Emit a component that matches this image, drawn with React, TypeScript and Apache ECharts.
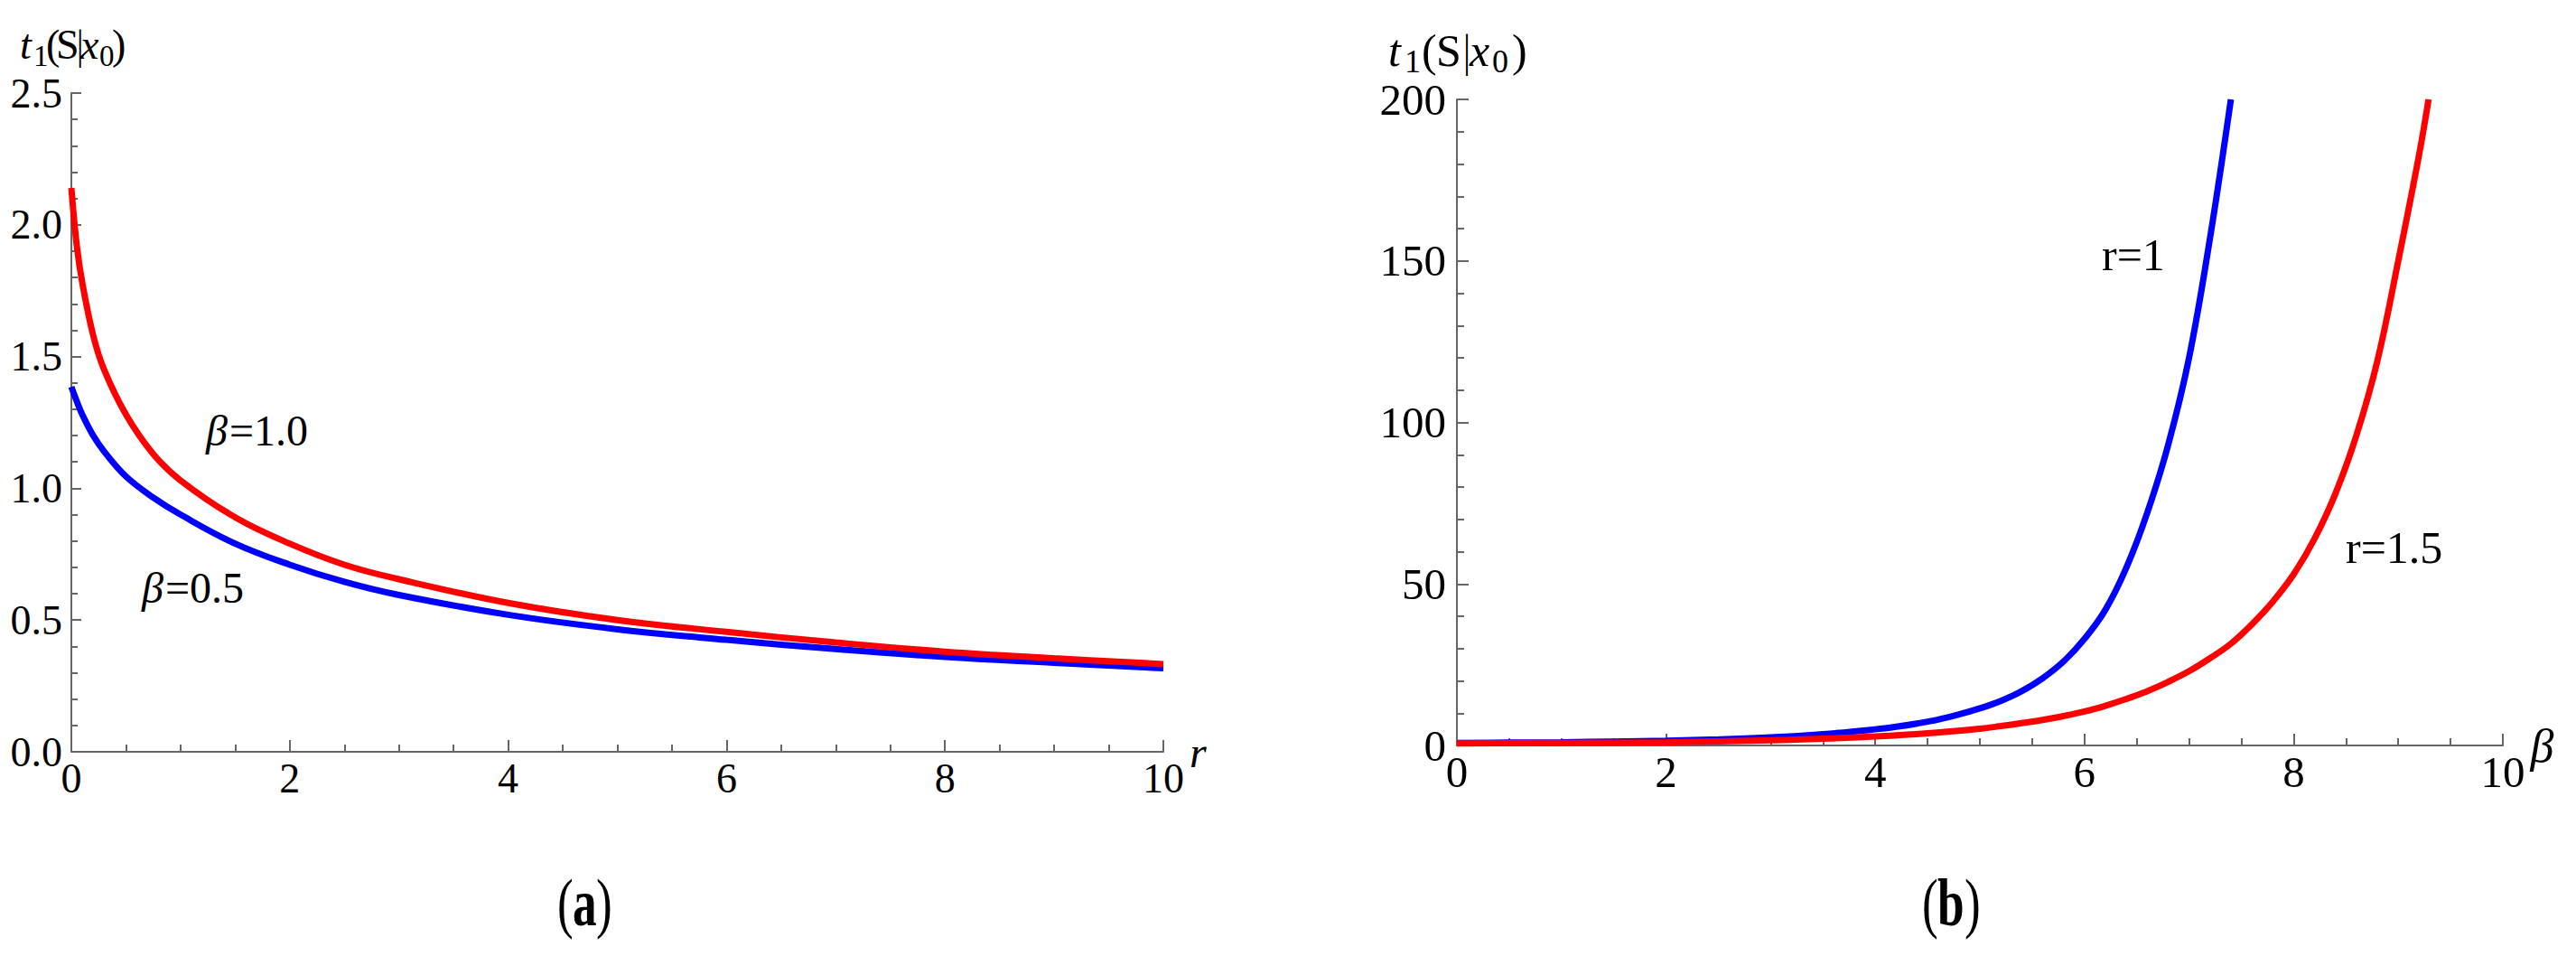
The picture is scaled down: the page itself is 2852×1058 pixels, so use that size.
import { useEffect, useRef } from "react";
import * as echarts from "echarts";

// ---- Panel (a): t1(S|x0) versus r ----
const rValues = [0, 0.05, 0.1, 0.2, 0.3, 0.5, 0.75, 1, 1.5, 2, 2.5, 3, 4, 5, 6, 7, 8, 9, 10];
const tBeta10 = [2.14, 1.92, 1.78, 1.58, 1.45, 1.28, 1.13, 1.03, 0.89, 0.79, 0.71, 0.655, 0.565, 0.5, 0.455, 0.415, 0.38, 0.355, 0.333];
const tBeta05 = [1.385, 1.33, 1.28, 1.2, 1.14, 1.045, 0.965, 0.9, 0.79, 0.71, 0.645, 0.595, 0.52, 0.465, 0.425, 0.39, 0.36, 0.338, 0.317];

// ---- Panel (b): t1(S|x0) versus beta ----
const betaR1 = [0, 0.5, 1, 1.5, 2, 2.5, 3, 3.5, 4, 4.2, 4.4, 4.6, 4.8, 5, 5.2, 5.4, 5.6, 5.8, 6, 6.2, 6.4, 6.6, 6.8, 7, 7.2, 7.4];
const tR1 = [0.8, 0.9, 1.0, 1.2, 1.5, 1.9, 2.5, 3.5, 5.0, 5.8, 6.8, 8.0, 9.6, 11.5, 13.8, 16.8, 20.8, 26, 33, 42, 55, 72, 93, 120, 157, 200];
const betaR15 = [0, 1, 2, 3, 3.5, 4, 4.5, 5, 5.2, 5.4, 5.6, 5.8, 6, 6.2, 6.4, 6.6, 6.8, 7, 7.2, 7.4, 7.6, 7.8, 8, 8.2, 8.4, 8.6, 8.8, 9, 9.2, 9.29];
const tR15 = [0.6, 0.8, 1.0, 1.6, 2.1, 2.8, 3.8, 5.2, 6.0, 6.9, 7.9, 9.1, 10.5, 12.3, 14.4, 16.8, 19.7, 23, 27, 31.5, 37.5, 44.5, 53, 64, 78, 96, 119, 150, 183, 200];

const curveLabelsA = ["=1.0", "=0.5"];
const curveLabelsB = ["r=1", "r=1.5"];
const panelTags = ["a", "b"];

const SERIF = "Liberation Serif";
const GRAY = "#666666";
const RED = "#ff0000";
const BLUE = "#0000ff";

const zip = (xs: number[], ys: number[]) => xs.map((x, i) => [x, ys[i]]);

function valueAxis(extra: any) {
  return {
    type: "value",
    splitLine: { show: false },
    axisLine: { show: true, onZero: false, lineStyle: { color: GRAY, width: 2 } },
    axisTick: { show: true, inside: true, length: 13, lineStyle: { color: GRAY, width: 2 } },
    minorTick: { show: true, length: 8, lineStyle: { color: GRAY, width: 2 } },
    ...extra,
  };
}

function txt(text: string, x: number, baseline: number, size: number, opts: any = {}) {
  return {
    type: "text",
    x,
    y: baseline - 0.34 * size,
    scaleX: opts.scaleX ?? 1,
    silent: true,
    style: {
      text,
      x: 0,
      y: 0,
      fill: "#000",
      fontFamily: SERIF,
      fontSize: size,
      fontStyle: opts.italic ? "italic" : "normal",
      fontWeight: opts.bold ? "bold" : "normal",
      textAlign: opts.align ?? "left",
      textVerticalAlign: "middle",
      align: opts.align ?? "left",
      verticalAlign: "middle",
    },
  };
}

function yTitle(base: number, subBase: number, size: number, sub: number, pos: number[]) {
  // pos: x positions of t, 1, (, S, |, x, 0, )
  return [
    txt("t", pos[0], base, size, { italic: true }),
    txt("1", pos[1], subBase, sub),
    txt("(", pos[2], base, size),
    txt("S", pos[3], base, size),
    txt("|", pos[4], base, size, { scaleX: 0.8 }),
    txt("x", pos[5], base, size, { italic: true }),
    txt("0", pos[6], subBase, sub),
    txt(")", pos[7], base, size),
  ];
}

function lineSeries(xi: number, xs: number[], ys: number[], color: string) {
  return {
    type: "line",
    xAxisIndex: xi,
    yAxisIndex: xi,
    data: zip(xs, ys),
    showSymbol: false,
    smooth: 0.4,
    lineStyle: { color, width: 7 },
    itemStyle: { color },
    silent: true,
  };
}

export default function App() {
  const ref = useRef<HTMLDivElement>(null);

  useEffect(() => {
    if (!ref.current) return;
    const chart = echarts.init(ref.current, null, { renderer: "svg" });

    const option: any = {
      animation: false,
      backgroundColor: "#ffffff",
      grid: [
        { left: 79, top: 103, width: 1209, height: 729 },
        { left: 1613, top: 110, width: 1158, height: 715 },
      ],
      xAxis: [
        valueAxis({
          gridIndex: 0,
          min: 0,
          max: 10,
          interval: 2,
          minorTick: { show: true, splitNumber: 4, length: 8, lineStyle: { color: GRAY, width: 2 } },
          axisLabel: { color: "#000", fontFamily: SERIF, fontSize: 46, margin: 6, showMinLabel: true, showMaxLabel: true },
          name: "r",
          nameLocation: "end",
          nameGap: 26,
          nameTextStyle: { color: "#000", fontFamily: SERIF, fontSize: 48, fontStyle: "italic" },
        }),
        valueAxis({
          gridIndex: 1,
          min: 0,
          max: 10,
          interval: 2,
          minorTick: { show: true, splitNumber: 4, length: 8, lineStyle: { color: GRAY, width: 2 } },
          axisLabel: { color: "#000", fontFamily: SERIF, fontSize: 49, margin: 5, showMinLabel: true, showMaxLabel: true },
          name: "β",
          nameLocation: "end",
          nameGap: 26,
          nameTextStyle: { color: "#000", fontFamily: SERIF, fontSize: 52, fontStyle: "italic" },
        }),
      ],
      yAxis: [
        valueAxis({
          gridIndex: 0,
          min: 0,
          max: 2.5,
          interval: 0.5,
          axisTick: { show: true, inside: true, length: 11, lineStyle: { color: GRAY, width: 2 } },
          minorTick: { show: true, splitNumber: 5, length: 7, lineStyle: { color: GRAY, width: 2 } },
          axisLabel: {
            color: "#000",
            fontFamily: SERIF,
            fontSize: 46,
            margin: 10,
            showMinLabel: true,
            showMaxLabel: true,
            formatter: (v: number) => v.toFixed(1),
          },
        }),
        valueAxis({
          gridIndex: 1,
          min: 0,
          max: 200,
          interval: 50,
          minorTick: { show: true, splitNumber: 5, length: 8, lineStyle: { color: GRAY, width: 2 } },
          axisLabel: { color: "#000", fontFamily: SERIF, fontSize: 49, margin: 12, showMinLabel: true, showMaxLabel: true },
        }),
      ],
      series: [
        lineSeries(0, rValues, tBeta05, BLUE),
        lineSeries(0, rValues, tBeta10, RED),
        lineSeries(1, betaR1, tR1, BLUE),
        lineSeries(1, betaR15, tR15, RED),
      ],
      graphic: [
        ...yTitle(65, 73, 46, 33, [22, 37, 51, 62, 85, 89, 110, 124]),
        ...yTitle(73, 80, 50, 36, [1537, 1555, 1574, 1590, 1620, 1627, 1652, 1674]),
        txt("β", 228, 493, 48, { italic: true }),
        txt(curveLabelsA[0], 254, 493, 48),
        txt("β", 157, 667, 48, { italic: true }),
        txt(curveLabelsA[1], 183, 667, 48),
        txt(curveLabelsB[0], 2327, 299, 50),
        txt(curveLabelsB[1], 2597, 623, 50),
        txt("(", 617, 1024, 74, { scaleX: 0.72 }),
        txt(panelTags[0], 634, 1024, 74, { bold: true, scaleX: 0.72 }),
        txt(")", 660, 1024, 74, { scaleX: 0.72 }),
        txt("(", 2128, 1024, 74, { scaleX: 0.72 }),
        txt(panelTags[1], 2145, 1024, 74, { bold: true, scaleX: 0.72 }),
        txt(")", 2175, 1024, 74, { scaleX: 0.72 }),
      ],
    };

    chart.setOption(option);
    return () => chart.dispose();
  }, []);

  return (
    <div
      ref={ref}
      style={{ position: "fixed", left: 0, top: 0, width: 2852, height: 1058, background: "#fff" }}
    />
  );
}
